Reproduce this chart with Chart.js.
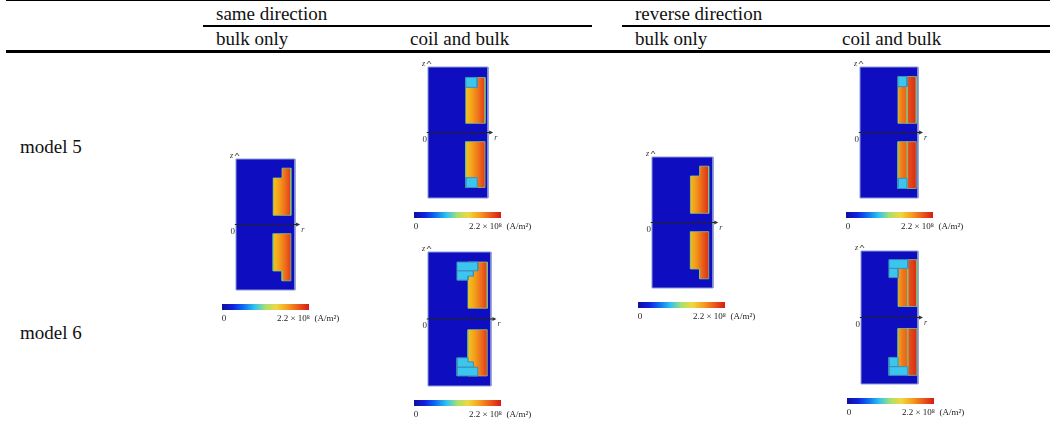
<!DOCTYPE html>
<html>
<head>
<meta charset="utf-8">
<script src="https://cdn.jsdelivr.net/npm/chart.js@4.4.1/dist/chart.umd.min.js"></script>
<style>
    body { margin: 0; background: #fff; }
    #page { position: relative; width: 1050px; height: 428px; overflow: hidden; font-family: 'Liberation Serif', 'Times New Roman', serif; color: #111; }
    .rule { position: absolute; background: #000; }
    .txt { position: absolute; font-size: 19px; line-height: 19px; white-space: nowrap; }
    canvas { position: absolute; }
</style>
</head>
<body>
<div id="page"></div>
<script>
// table text
const groupHeaders = ['same direction', 'reverse direction'];
const subHeaders = ['bulk only', 'coil and bulk', 'bulk only', 'coil and bulk'];
const rowLabels = ['model 5', 'model 6'];

// colour bar range (x 10^8 A/m^2)
const barTicks = [0, 2.2];
const barUnit = '× 10⁸  (A/m²)';

// regions as [r, z] in the upper half of the domain (r 0..1, z -1..1); the lower half is mirrored
const bulkHot = [[0.63, 0.14], [0.63, 0.71], [0.78, 0.71], [0.78, 0.86], [0.93, 0.86], [0.93, 0.14]];
const coil5Hot = [[0.63, 0.14], [0.63, 0.84], [0.95, 0.84], [0.95, 0.14]];
const coil5Coil = [[0.63, 0.69], [0.63, 0.84], [0.82, 0.84], [0.82, 0.69]];
const coil5RevHot = [[0.655, 0.14], [0.655, 0.855], [0.81, 0.855], [0.81, 0.14]];
const coil5RevRed = [[0.81, 0.14], [0.81, 0.855], [0.97, 0.855], [0.97, 0.14]];
const coil5RevCoil = [[0.655, 0.70], [0.655, 0.855], [0.81, 0.855], [0.81, 0.70]];
const coil6Hot = [[0.635, 0.16], [0.635, 0.85], [0.94, 0.85], [0.94, 0.16]];
const coil6CoilTop = [[0.46, 0.72], [0.46, 0.85], [0.79, 0.85], [0.79, 0.72]];
const coil6CoilLow = [[0.46, 0.58], [0.46, 0.72], [0.72, 0.72], [0.72, 0.64], [0.635, 0.64], [0.635, 0.58]];
const coil6RevHot = [[0.65, 0.165], [0.65, 0.74], [0.82, 0.74], [0.82, 0.165]];
const coil6RevRed = [[0.82, 0.165], [0.82, 0.87], [0.98, 0.87], [0.98, 0.165]];
const coil6RevCoilTop = [[0.49, 0.74], [0.49, 0.87], [0.82, 0.87], [0.82, 0.74]];
const coil6RevCoilLow = [[0.49, 0.60], [0.49, 0.74], [0.65, 0.74], [0.65, 0.60]];

const fills = {
    hot: ['#f6c41e', '#f3a01b', '#ee701b', '#e03a18'],
    hotRev: ['#f5b81d', '#f2941b', '#ea5e1a', '#dc3016'],
    orange: ['#f3a21d', '#ee761c', '#ea621b'],
    red: ['#e8561b', '#e04018', '#d82a16'],
    coil: ['#3cc6ef', '#3cc6ef'],
};
const jet = ['#10109a', '#1020e0', '#1070f0', '#30c4f0', '#a8e070', '#f0d840', '#f5a020', '#ee5a1c', '#d41c14'];

// where each picture sits on the page (domain box in px)
const panels = [
    { L: 236, T: 159, w: 59, h: 131, parts: [['hot', bulkHot]] },
    { L: 428, T: 67, w: 60, h: 131, parts: [['hot', coil5Hot], ['coil', coil5Coil]] },
    { L: 428, T: 252, w: 63, h: 134, parts: [['hot', coil6Hot], ['coil', coil6CoilTop], ['coil', coil6CoilLow]] },
    { L: 652, T: 157, w: 61, h: 131, parts: [['hotRev', bulkHot]] },
    { L: 860, T: 67, w: 58, h: 131, parts: [['orange', coil5RevHot], ['red', coil5RevRed], ['coil', coil5RevCoil]] },
    { L: 861, T: 251, w: 57, h: 133, parts: [['orange', coil6RevHot], ['red', coil6RevRed], ['coil', coil6RevCoilTop], ['coil', coil6RevCoilLow]] },
];

const page = document.getElementById('page');

function addRule(left, top, width, height) {
    const d = document.createElement('div');
    d.className = 'rule';
    Object.assign(d.style, { left: left + 'px', top: top + 'px', width: width + 'px', height: height + 'px' });
    page.appendChild(d);
}

function addText(text, left, baseline) {
    const d = document.createElement('div');
    d.className = 'txt';
    d.textContent = text;
    d.style.left = left + 'px';
    d.style.top = (baseline - 16) + 'px';
    page.appendChild(d);
}

addRule(6, 0, 1044, 1);
addRule(203, 25, 389, 2);
addRule(622, 25, 428, 2);
addRule(6, 50, 1044, 3);

[216, 635].forEach((x, i) => addText(groupHeaders[i], x, 20));
[216, 410, 635, 842].forEach((x, i) => addText(subHeaders[i], x, 45));
[153, 339].forEach((y, i) => addText(rowLabels[i], 20, y));

function polygon(pts) {
    const out = pts.map(([r, z]) => ({ x: r, y: z }));
    out.push(out[0]);
    return out;
}

function mirror(pts) {
    return pts.map(([r, z]) => [r, -z]);
}

function gradientFill(stops) {
    return (ctx) => {
        const chart = ctx.chart;
        if (!chart.chartArea) return stops[0];
        const xs = ctx.dataset.data.map((p) => p.x);
        const x0 = chart.scales.x.getPixelForValue(Math.min(...xs));
        const x1 = chart.scales.x.getPixelForValue(Math.max(...xs));
        const g = chart.ctx.createLinearGradient(x0, 0, x1, 0);
        stops.forEach((c, i) => g.addColorStop(i / (stops.length - 1), c));
        return g;
    };
}

function shape(pts, stops, order, border) {
    return {
        data: polygon(pts),
        fill: 'shape',
        backgroundColor: gradientFill(stops),
        borderColor: border,
        borderWidth: border ? 1 : 0,
        pointRadius: 0,
        tension: 0,
        order,
        clip: false,
    };
}

const annotate = {
    id: 'annotate',
    afterDatasetsDraw(chart, args, opts) {
        const { ctx, scales: { x, y } } = chart;
        const x0 = x.getPixelForValue(0);
        const xEnd = x.getPixelForValue(1.07);
        const yTop = y.getPixelForValue(1);
        const yMid = y.getPixelForValue(0);
        ctx.save();
        ctx.fillStyle = '#333';
        ctx.strokeStyle = '#333';
        ctx.lineWidth = 0.8;
        // z axis label and tick arrow
        ctx.font = 'italic 8px "Liberation Serif"';
        ctx.textAlign = 'right';
        ctx.fillText('z', x0 - 3, yTop - 1);
        ctx.beginPath();
        ctx.moveTo(x0 - 1, yTop - 3);
        ctx.lineTo(x0 + 1, yTop - 6);
        ctx.lineTo(x0 + 3, yTop - 3);
        ctx.stroke();
        // r axis arrow and label
        ctx.beginPath();
        ctx.moveTo(xEnd + 1, yMid);
        ctx.lineTo(xEnd - 3, yMid - 2);
        ctx.lineTo(xEnd - 3, yMid + 2);
        ctx.closePath();
        ctx.fill();
        ctx.textAlign = 'left';
        ctx.fillText('r', xEnd + 2, yMid + 7);
        ctx.font = '9px "Liberation Serif"';
        ctx.textAlign = 'right';
        ctx.fillText('0', x0 - 1, yMid + 9);
        // colour bar labels
        const cbL = x.getPixelForValue(opts.cbLeft);
        const cbR = x.getPixelForValue(opts.cbRight);
        const base = y.getPixelForValue(opts.cbBottom) + 11;
        ctx.fillStyle = '#222';
        ctx.textAlign = 'center';
        ctx.fillText(String(barTicks[0]), cbL + 2, base);
        ctx.textAlign = 'left';
        ctx.fillText(barTicks[1].toFixed(1) + ' ' + barUnit, cbR - 32, base);
        ctx.restore();
    },
};

panels.forEach((p) => {
    const cw = 140;
    const ch = p.h + 48;
    const half = p.h / 2;
    const canvas = document.createElement('canvas');
    canvas.width = cw;
    canvas.height = ch;
    canvas.style.left = (p.L - 24) + 'px';
    canvas.style.top = (p.T - 12) + 'px';
    canvas.style.width = cw + 'px';
    canvas.style.height = ch + 'px';
    page.appendChild(canvas);

    const cbLeft = -14 / p.w;
    const cbRight = 73 / p.w;
    const cbTop = -1 - 14 / half;
    const cbBottom = -1 - 20 / half;

    const datasets = [];
    datasets.push(shape([[0, -1], [0, 1], [1, 1], [1, -1]], ['#0e0ec0', '#0e0ec0'], 3, '#8c9bd6'));
    p.parts.forEach(([kind, pts]) => {
        const isCoil = kind === 'coil';
        const order = isCoil ? 1 : 2;
        const border = isCoil ? '#3b8fb8' : 'rgba(130,200,120,0.8)';
        datasets.push(shape(pts, fills[kind], order, border));
        datasets.push(shape(mirror(pts), fills[kind], order, border));
    });
    datasets.push({
        data: [{ x: -0.02, y: 0 }, { x: 1.06, y: 0 }],
        borderColor: '#222',
        borderWidth: 1.2,
        pointRadius: 0,
        fill: false,
        order: 0,
        clip: false,
    });
    // colour bar, spread over the value range
    const cbPts = [[cbLeft, cbBottom], [cbLeft, cbTop], [cbRight, cbTop], [cbRight, cbBottom]];
    datasets.push(shape(cbPts, jet, 0, null));

    new Chart(canvas, {
        type: 'line',
        data: { datasets },
        options: {
            responsive: false,
            animation: false,
            devicePixelRatio: 1,
            events: [],
            layout: { padding: 0 },
            scales: {
                x: { type: 'linear', display: false, min: -24 / p.w, max: (cw - 24) / p.w },
                y: { type: 'linear', display: false, min: 1 + 12 / half - ch / half, max: 1 + 12 / half },
            },
            plugins: {
                legend: { display: false },
                tooltip: { enabled: false },
                annotate: { cbLeft, cbRight, cbBottom },
            },
        },
        plugins: [annotate],
    });
});
</script>
</body>
</html>
